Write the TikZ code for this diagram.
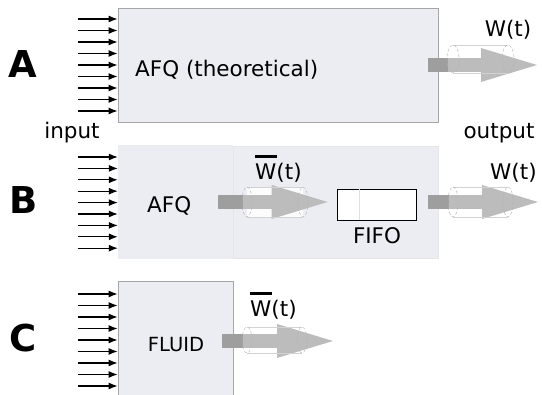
\documentclass[tikz,border=0pt]{standalone}
\usepackage{fontspec}
\setmainfont{DejaVu Sans}
\usetikzlibrary{arrows.meta,positioning}
\definecolor{boxfill}{RGB}{236,237,242}
\definecolor{flowdark}{RGB}{158,158,158}
\definecolor{flowlight}{RGB}{188,188,188}
\newcommand\wbar{\makebox[0pt][l]{\rule[22pt]{22pt}{3pt}}W(t)}
\tikzset{
  stage/.style={fill=boxfill, draw=gray!70, line width=0.8pt, inner sep=0pt},
  feed/.style={-{Latex[length=9pt,width=7pt]}, line width=1.1pt, black},
  flow/.style={line width=14pt, flowlight, -{Triangle[length=56pt,width=34pt,line width=0pt]}},
  flowcore/.style={line width=14pt, flowdark},
  pipebody/.style={fill=white, fill opacity=0.85},
  pipeend/.style={draw=gray!60, densely dashed, line width=0.4pt},
  pipeedge/.style={draw=gray!35, line width=0.4pt},
  tag/.style={font=\fontsize{37}{40}\selectfont\bfseries, inner sep=0pt},
  txt/.style={font=\fontsize{21.5}{24}\selectfont, inner sep=0pt}
}
\begin{document}
\begin{tikzpicture}[x=1pt,y=-1pt]
  \useasboundingbox (0,0) rectangle (542,395);

  % A: theoretical AFQ
  \node[stage, minimum width=320pt, minimum height=114pt] (afqA) at (278,65) {};
  \node[tag] (labA) at (23,64) {A};
  \node[txt, anchor=base west] (nameA) at (135,77) {AFQ (theoretical)};
  \foreach \k in {0,...,8} {
    \coordinate (inA\k) at (78,{19+11.5*\k});
    \draw[feed] (inA\k) -- (inA\k -| afqA.west);
  }
  \coordinate (endA) at (537,65);
  \coordinate (pipeA) at (448,65);
  \fill[pipebody] (453,45) rectangle (508,73);
  \draw[flow] ([xshift=-10pt]afqA.east) -- (endA);
  \draw[flowcore] ([xshift=-10pt]afqA.east) -- (pipeA);
  \draw[pipeedge] (453,45) -- (508,45) (453,73) -- (508,73);
  \draw[pipeend] (453,59) ellipse [x radius=6, y radius=14] (508,59) ellipse [x radius=6, y radius=14];
  \node[txt, anchor=base] (wA) at (508,37) {W(t)};
  \node[txt, anchor=base] (inlabel) at (72,139) {input};
  \node[txt, anchor=base] (outlabel) at (499,139) {output};

  % B: AFQ followed by a FIFO
  \node[fill=boxfill, minimum width=115pt, minimum height=114pt, inner sep=0pt] (afqB) at (175.5,202) {};
  \node[stage, draw=gray!20, minimum width=205pt, minimum height=112pt] (queueB) at (335.5,202) {};
  \node[tag] (labB) at (24,200) {B};
  \node[txt, anchor=base west] (nameB) at (147,213) {AFQ};
  \foreach \k in {0,...,8} {
    \coordinate (inB\k) at (78,{157+11.4*\k});
    \draw[feed] (inB\k) -- (inB\k -| afqB.west);
  }
  \node[draw=black, fill=white, line width=0.8pt, minimum width=79pt, minimum height=31pt, inner sep=0pt] (fifo) at (376.5,204.5) {};
  \draw[gray!25] ([xshift=23pt]fifo.north west) -- ([xshift=23pt]fifo.south west);
  \node[txt, anchor=base] (fifolabel) at (377,244) {FIFO};
  \coordinate (pipeB) at (243,202);
  \fill[pipebody] (247,187) rectangle (303,217);
  \draw[flow, shorten >=9pt] ([xshift=-15pt]afqB.east) -- (fifo.west |- afqB.east);
  \draw[flowcore] ([xshift=-15pt]afqB.east) -- (pipeB);
  \draw[pipeedge] (247,187) -- (303,187) (247,217) -- (303,217);
  \draw[pipeend] (247,202) ellipse [x radius=5, y radius=15] (303,202) ellipse [x radius=5, y radius=15];
  \node[txt, anchor=base west] (wbarB) at (255,180) {\wbar};
  \coordinate (endB) at (538,202);
  \coordinate (pipeBout) at (449,202);
  \fill[pipebody] (453,187) rectangle (508,217);
  \draw[flow] ([xshift=-10pt]queueB.east) -- (endB);
  \draw[flowcore] ([xshift=-10pt]queueB.east) -- (pipeBout);
  \draw[pipeedge] (453,187) -- (508,187) (453,217) -- (508,217);
  \draw[pipeend] (453,202) ellipse [x radius=5, y radius=15] (508,202) ellipse [x radius=5, y radius=15];
  \node[txt, anchor=base west] (wB) at (490,180) {W(t)};

  % C: fluid model
  \node[stage, minimum width=115pt, minimum height=120pt] (fluidC) at (175.5,341) {};
  \node[tag] (labC) at (23,338) {C};
  \node[txt, font=\fontsize{19.5}{22}\selectfont, anchor=base] (nameC) at (176,352) {FLUID};
  \foreach \k in {0,...,8} {
    \coordinate (inC\k) at (78,{294+11.5*\k});
    \draw[feed] (inC\k) -- (inC\k -| fluidC.west);
  }
  \coordinate (endC) at (333,341);
  \coordinate (pipeC) at (243,341);
  \fill[pipebody] (247,327) rectangle (302,353);
  \draw[flow] ([xshift=-11pt]fluidC.east) -- (endC);
  \draw[flowcore] ([xshift=-11pt]fluidC.east) -- (pipeC);
  \draw[pipeedge] (247,327) -- (302,327) (247,353) -- (302,353);
  \draw[pipeend] (247,340) ellipse [x radius=5, y radius=13] (302,340) ellipse [x radius=5, y radius=13];
  \node[txt, anchor=base west] (wbarC) at (250,317) {\wbar};
\end{tikzpicture}
\end{document}
